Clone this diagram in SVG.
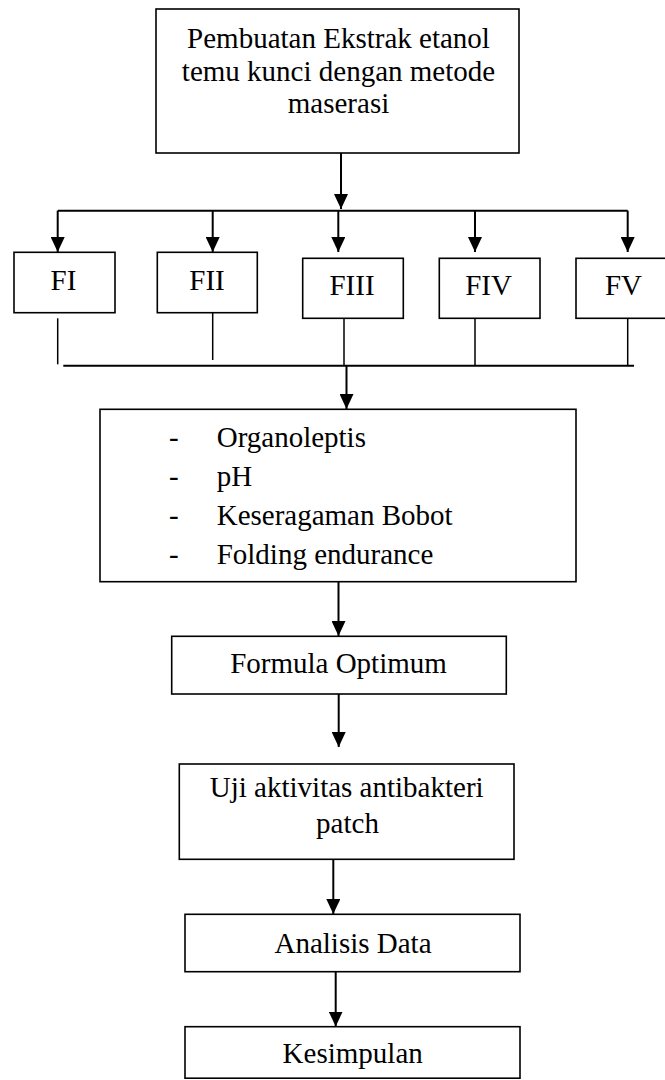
<svg xmlns="http://www.w3.org/2000/svg" width="665" height="1080" viewBox="0 0 665 1080">
<style>
.box{fill:#fff;stroke:#000;stroke-width:1.6}
.t{font-family:"Liberation Serif","Times New Roman",serif;font-size:29px;fill:#000}
.c{text-anchor:middle}
.ar{stroke:#000;stroke-width:2;fill:none}
.ln{stroke:#000;stroke-width:1.5;fill:none}
.hl{stroke:#000;stroke-width:2;fill:none}
</style>
<defs>
<marker id="ah" markerUnits="userSpaceOnUse" markerWidth="15" markerHeight="14" viewBox="0 0 15 14" refX="15" refY="7" orient="auto">
<path d="M0,0 L15,7 L0,14 z" fill="#000"/>
</marker>
</defs>
<rect width="665" height="1080" fill="#fff"/>
<g id="connectors">
<line class="ar" x1="341" y1="153" x2="341" y2="209" marker-end="url(#ah)"/>
<line class="hl" x1="57.7" y1="210.7" x2="627.7" y2="210.7"/>
<line class="ar" x1="57.7" y1="210.7" x2="57.7" y2="252" marker-end="url(#ah)"/>
<line class="ar" x1="212.7" y1="210.7" x2="212.7" y2="252" marker-end="url(#ah)"/>
<line class="ar" x1="338.3" y1="210.7" x2="338.3" y2="252" marker-end="url(#ah)"/>
<line class="ar" x1="475" y1="210.7" x2="475" y2="252" marker-end="url(#ah)"/>
<line class="ar" x1="627.7" y1="210.7" x2="627.7" y2="252" marker-end="url(#ah)"/>
<line class="ln" x1="57.7" y1="318.3" x2="57.7" y2="364.3"/>
<line class="ln" x1="212.7" y1="312.7" x2="212.7" y2="360"/>
<line class="ln" x1="344" y1="318.3" x2="344" y2="365.7"/>
<line class="ln" x1="475" y1="318.3" x2="475" y2="365.7"/>
<line class="ln" x1="627.7" y1="318.3" x2="627.7" y2="365.7"/>
<line class="hl" x1="63.3" y1="365.7" x2="634" y2="365.7"/>
<line class="ar" x1="346.5" y1="365.7" x2="346.5" y2="409" marker-end="url(#ah)"/>
<line class="ar" x1="338.5" y1="582" x2="338.5" y2="636" marker-end="url(#ah)"/>
<line class="ar" x1="338.7" y1="694" x2="338.7" y2="747" marker-end="url(#ah)"/>
<line class="ar" x1="333.3" y1="859.3" x2="333.3" y2="914" marker-end="url(#ah)"/>
<line class="ar" x1="335.7" y1="971.7" x2="335.7" y2="1026.5" marker-end="url(#ah)"/>
</g>
<g id="n-start">
<rect class="box" x="156" y="9" width="363" height="144"/>
<text class="t c" x="338.5" y="48">Pembuatan Ekstrak etanol</text>
<text class="t c" x="338.5" y="81">temu kunci dengan metode</text>
<text class="t c" x="338.5" y="113">maserasi</text>
</g>
<g id="n-f1">
<rect class="box" x="14" y="252.3" width="101" height="60.4"/>
<text class="t c" x="63.5" y="290">FI</text>
</g>
<g id="n-f2">
<rect class="box" x="157.3" y="252.3" width="100" height="60.4"/>
<text class="t c" x="207" y="290">FII</text>
</g>
<g id="n-f3">
<rect class="box" x="302.7" y="258.3" width="100.6" height="60"/>
<text class="t c" x="352" y="295">FIII</text>
</g>
<g id="n-f4">
<rect class="box" x="439.3" y="258.3" width="100.7" height="60"/>
<text class="t c" x="488.5" y="295">FIV</text>
</g>
<g id="n-f5">
<rect class="box" x="576" y="258.3" width="95" height="60"/>
<text class="t c" x="623.5" y="295">FV</text>
</g>
<g id="n-tests">
<rect class="box" x="100" y="409.3" width="476" height="172.4"/>
<text class="t" x="169" y="447.3">-</text><text class="t" x="216.7" y="447.3">Organoleptis</text>
<text class="t" x="169" y="486">-</text><text class="t" x="216.7" y="486">pH</text>
<text class="t" x="169" y="525">-</text><text class="t" x="216.7" y="525">Keseragaman Bobot</text>
<text class="t" x="169" y="564">-</text><text class="t" x="216.7" y="564">Folding endurance</text>
</g>
<g id="n-optimum">
<rect class="box" x="171.7" y="636.3" width="334.6" height="57.7"/>
<text class="t c" x="338.5" y="673.3">Formula Optimum</text>
</g>
<g id="n-uji">
<rect class="box" x="179.3" y="764" width="334.7" height="95.3"/>
<text class="t c" x="346.7" y="796.7">Uji aktivitas antibakteri</text>
<text class="t c" x="347.5" y="832.7">patch</text>
</g>
<g id="n-analisis">
<rect class="box" x="185" y="914.3" width="335" height="57.4"/>
<text class="t c" x="353" y="952.7">Analisis Data</text>
</g>
<g id="n-kesimpulan">
<rect class="box" x="185" y="1026.7" width="335" height="51.5"/>
<text class="t c" x="352.7" y="1063.3">Kesimpulan</text>
</g>
</svg>
